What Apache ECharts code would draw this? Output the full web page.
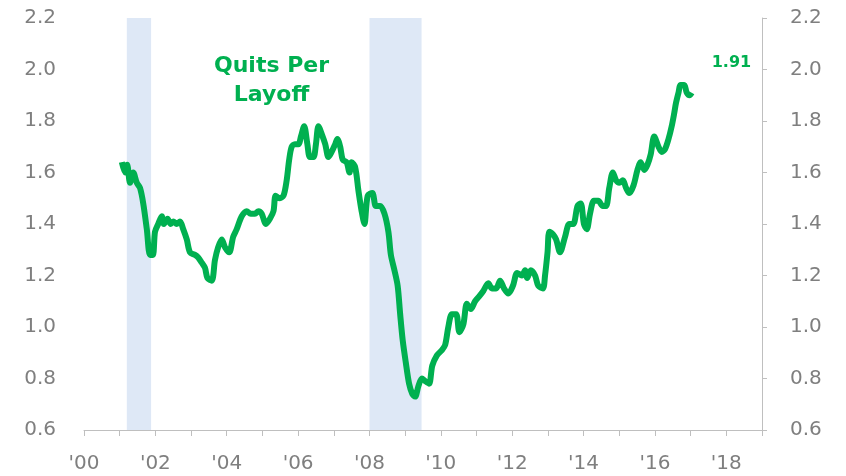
<!DOCTYPE html>
<html>
<head>
<meta charset="utf-8">
<script src="https://cdn.jsdelivr.net/npm/echarts@6/dist/echarts.min.js"></script>
<style>
  html, body { margin: 0; padding: 0; background: #fff; }
  #chart { width: 846px; height: 476px; }
</style>
</head>
<body>
<div id="chart"></div>
<script>
// 数据：年份（小数）与 每次裁员对应的辞职数
const years = [
  2001.06, 2001.15, 2001.21, 2001.29, 2001.38, 2001.48, 2001.57, 2001.66, 2001.76, 2001.85,
  2001.93, 2001.99, 2002.08, 2002.18, 2002.24, 2002.34, 2002.43, 2002.50, 2002.60, 2002.69,
  2002.78, 2002.88, 2002.97, 2003.11, 2003.20, 2003.30, 2003.39, 2003.46, 2003.58, 2003.67,
  2003.76, 2003.86, 2003.95, 2004.07, 2004.18, 2004.28, 2004.42, 2004.56, 2004.67, 2004.79,
  2004.89, 2004.98, 2005.10, 2005.21, 2005.31, 2005.37, 2005.47, 2005.59, 2005.68, 2005.75,
  2005.82, 2005.91, 2006.01, 2006.08, 2006.17, 2006.26, 2006.33, 2006.43, 2006.50, 2006.57,
  2006.66, 2006.76, 2006.85, 2006.94, 2007.04, 2007.10, 2007.18, 2007.25, 2007.36, 2007.44,
  2007.50, 2007.60, 2007.69, 2007.78, 2007.86, 2007.95, 2008.08, 2008.18, 2008.30, 2008.42,
  2008.53, 2008.60, 2008.70, 2008.79, 2008.86, 2008.93, 2009.02, 2009.11, 2009.20, 2009.28,
  2009.37, 2009.47, 2009.56, 2009.67, 2009.76, 2009.89, 2010.03, 2010.12, 2010.21, 2010.31,
  2010.43, 2010.52, 2010.63, 2010.73, 2010.84, 2010.96, 2011.08, 2011.19, 2011.33, 2011.43,
  2011.55, 2011.66, 2011.77, 2011.89, 2012.02, 2012.14, 2012.27, 2012.36, 2012.42, 2012.52,
  2012.64, 2012.73, 2012.86, 2012.92, 2012.99, 2013.04, 2013.14, 2013.23, 2013.34, 2013.48,
  2013.60, 2013.71, 2013.83, 2013.92, 2014.01, 2014.09, 2014.18, 2014.29, 2014.41, 2014.54,
  2014.63, 2014.72, 2014.82, 2014.91, 2015.00, 2015.10, 2015.19, 2015.28, 2015.40, 2015.51,
  2015.60, 2015.70, 2015.79, 2015.88, 2015.98, 2016.10, 2016.19, 2016.28, 2016.38, 2016.47,
  2016.54, 2016.59, 2016.66, 2016.72, 2016.82, 2016.89, 2016.97, 2017.03
];
const quitsPerLayoff = [
  1.64, 1.60, 1.63, 1.56, 1.60, 1.56, 1.54, 1.48, 1.38, 1.28,
  1.28, 1.37, 1.40, 1.43, 1.40, 1.42, 1.40, 1.41, 1.40, 1.41,
  1.38, 1.34, 1.29, 1.28, 1.27, 1.25, 1.23, 1.19, 1.18, 1.26,
  1.31, 1.34, 1.31, 1.29, 1.35, 1.38, 1.43, 1.45, 1.44, 1.44,
  1.45, 1.44, 1.40, 1.42, 1.45, 1.51, 1.50, 1.51, 1.57, 1.65,
  1.70, 1.71, 1.71, 1.74, 1.78, 1.71, 1.66, 1.66, 1.71, 1.78,
  1.75, 1.71, 1.66, 1.68, 1.71, 1.73, 1.70, 1.65, 1.64, 1.60,
  1.64, 1.62, 1.53, 1.45, 1.40, 1.51, 1.52, 1.47, 1.47, 1.44,
  1.37, 1.28, 1.22, 1.16, 1.05, 0.95, 0.86, 0.78, 0.74, 0.73,
  0.77, 0.80, 0.79, 0.78, 0.85, 0.89, 0.91, 0.93, 1.00, 1.05,
  1.05, 0.98, 1.01, 1.09, 1.07, 1.10, 1.12, 1.14, 1.17, 1.15,
  1.15, 1.18, 1.15, 1.13, 1.16, 1.21, 1.20, 1.22, 1.19, 1.22,
  1.20, 1.16, 1.15, 1.20, 1.29, 1.37, 1.36, 1.34, 1.29, 1.35,
  1.40, 1.40, 1.47, 1.48, 1.40, 1.38, 1.44, 1.49, 1.49, 1.47,
  1.47, 1.54, 1.60, 1.57, 1.56, 1.57, 1.54, 1.52, 1.55, 1.61,
  1.64, 1.61, 1.63, 1.67, 1.74, 1.70, 1.68, 1.69, 1.73, 1.78,
  1.83, 1.87, 1.91, 1.94, 1.94, 1.91, 1.90, 1.91
];
// 衰退期（阴影区间）
const recessions = [[2001.2, 2001.88], [2008.0, 2009.46]];
// 坐标轴刻度
const yTicks = [0.6, 0.8, 1.0, 1.2, 1.4, 1.6, 1.8, 2.0, 2.2];
const xRange = [2000, 2019];

const green = '#00b050';
const gray = '#7f7f7f';
const font = 'DejaVu Sans, Verdana, sans-serif';

const chart = echarts.init(document.getElementById('chart'));

const yAxisBase = {
  type: 'value',
  min: yTicks[0],
  max: yTicks[yTicks.length - 1],
  interval: 0.2,
  splitLine: { show: false },
  axisLabel: {
    color: gray,
    fontSize: 20,
    fontFamily: font,
    formatter: v => v.toFixed(1)
  }
};

chart.setOption({
  animation: false,
  grid: { left: 84, right: 84, top: 18, bottom: 46 },
  xAxis: {
    type: 'value',
    min: xRange[0],
    max: xRange[1],
    interval: 1,
    splitLine: { show: false },
    axisLine: { lineStyle: { color: '#bfbfbf', width: 1 } },
    axisTick: { show: true, length: 6, lineStyle: { color: '#bfbfbf' } },
    axisLabel: {
      color: gray,
      fontSize: 20,
      fontFamily: font,
      margin: 24,
      showMaxLabel: true,
      formatter: v => (v % 2 === 0 && v < 2019) ? "'" + String(v % 100).padStart(2, '0') : ''
    }
  },
  yAxis: [
    Object.assign({}, yAxisBase, {
      position: 'left',
      axisLine: { show: false },
      axisTick: { show: false },
      axisLabel: Object.assign({}, yAxisBase.axisLabel, { margin: 28 })
    }),
    Object.assign({}, yAxisBase, {
      position: 'right',
      axisLine: { show: true, lineStyle: { color: '#bfbfbf', width: 1 } },
      axisTick: { show: true, length: 5, lineStyle: { color: '#bfbfbf' } },
      axisLabel: Object.assign({}, yAxisBase.axisLabel, { margin: 28 })
    })
  ],
  graphic: [{
    type: 'text',
    left: 214,
    top: 52,
    style: {
      text: 'Quits Per\nLayoff',
      fill: green,
      font: 'bold 22px ' + font,
      textAlign: 'center',
      lineHeight: 29
    }
  }],
  series: [{
    type: 'line',
    yAxisIndex: 0,
    data: years.map((y, i) => [y, quitsPerLayoff[i]]),
    showSymbol: false,
    smooth: 0.3,
    lineStyle: { color: green, width: 6 },
    itemStyle: { color: green },
    endLabel: {
      show: true,
      formatter: p => p.value[1].toFixed(2),
      color: green,
      fontFamily: font,
      fontWeight: 'bold',
      fontSize: 16,
      offset: [12, -30]
    },
    markArea: {
      silent: true,
      itemStyle: { color: '#dee8f6' },
      data: recessions.map(r => [{ xAxis: r[0] }, { xAxis: r[1] }])
    },
    z: 3
  }]
});
</script>
</body>
</html>
